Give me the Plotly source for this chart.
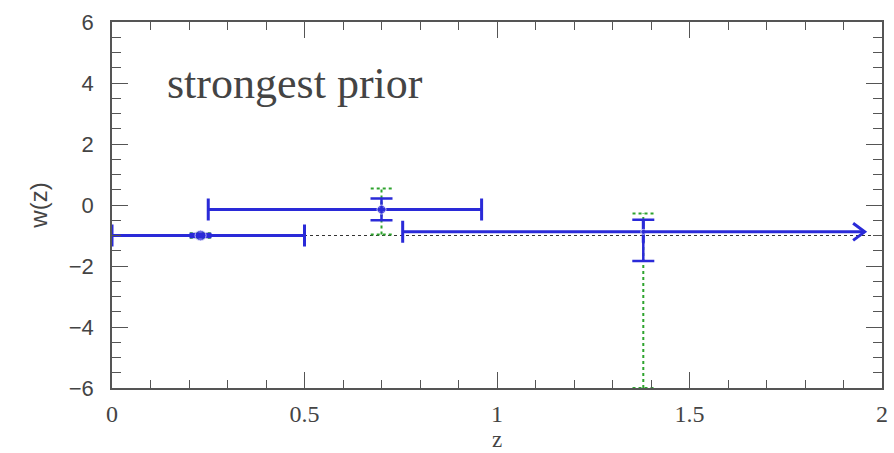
import plotly.graph_objects as go

# ---- data ----
bin_z = [0.23, 0.70, 1.38]          # representative redshift of each bin
bin_w = [-1.00, -0.15, -0.88]       # w(z) estimate per bin
z_lo = [0.00, 0.25, 0.755]          # bin lower edge
z_hi = [0.50, 0.96, 1.955]          # bin upper edge
w_err_plus = [0.05, 0.36, 0.40]     # blue error (upper)
w_err_minus = [0.05, 0.35, 0.96]    # blue error (lower)
g_err_plus = [0.07, 0.69, 0.60]     # green dotted error (upper)
g_err_minus = [0.07, 0.82, 5.12]    # green dotted error (lower)
arrow_bin = [False, False, True]    # open-ended bin
w_fid = -1.0                        # fiducial w
x_range = [0, 2]
y_range = [-6, 6]
x_ticks = [0, 0.5, 1, 1.5, 2]
x_ticklabels = ["0", "0.5", "1", "1.5", "2"]
y_ticks = [-6, -4, -2, 0, 2, 4, 6]

BLUE = "#2a2ad8"
GREEN = "#2ea32e"
AXC = "#555555"

fig = go.Figure()

# fiducial w = -1 dotted line
fig.add_trace(go.Scatter(x=x_range, y=[w_fid, w_fid], mode="lines",
                         line=dict(color="#333333", width=1, dash="dot"),
                         hoverinfo="skip", showlegend=False))

# green dotted error bars (vertical + caps)
cap = 0.028
gx, gy = [], []
for z, w, p, m in zip(bin_z, bin_w, g_err_plus, g_err_minus):
    gx += [z, z, None, z - cap, z + cap, None, z - cap, z + cap, None]
    gy += [w - m, w + p, None, w + p, w + p, None, w - m, w - m, None]
fig.add_trace(go.Scatter(x=gx, y=gy, mode="lines",
                         line=dict(color=GREEN, width=2, dash="dot"),
                         hoverinfo="skip", showlegend=False))

# blue bins with x (bin width) and y error bars
fig.add_trace(go.Scatter(
    x=bin_z, y=bin_w, mode="markers",
    marker=dict(color=BLUE, size=[11, 9, 5]),
    error_x=dict(type="data", symmetric=False,
                 array=[h - z if not a else 0 for h, z, a in zip(z_hi, bin_z, arrow_bin)],
                 arrayminus=[z - l for l, z in zip(z_lo, bin_z)],
                 color=BLUE, thickness=3, width=11),
    error_y=dict(type="data", symmetric=False, array=w_err_plus,
                 arrayminus=w_err_minus, color=BLUE, thickness=2.5, width=11),
    showlegend=False))

# open-ended bin: line to the arrow tip plus an open chevron
ax_, ay_ = [], []
dz, dw = 0.03, 0.28
for z, w, h, a in zip(bin_z, bin_w, z_hi, arrow_bin):
    if a:
        ax_ += [z, h, None, h - dz, h, h - dz, None]
        ay_ += [w, w, None, w + dw, w, w - dw, None]
fig.add_trace(go.Scatter(x=ax_, y=ay_, mode="lines",
                         line=dict(color=BLUE, width=3),
                         hoverinfo="skip", showlegend=False))

fig.add_annotation(x=0.138, y=4.0, xref="x", yref="y", text="strongest prior",
                   showarrow=False, xanchor="left", yanchor="middle",
                   font=dict(family="Liberation Serif", size=44, color="#444444"))

fig.update_layout(
    width=894, height=453,
    margin=dict(l=112, r=12, t=22, b=65),
    paper_bgcolor="white", plot_bgcolor="white",
    xaxis=dict(range=x_range, tickvals=x_ticks, ticktext=x_ticklabels,
               automargin=False,
               ticks="inside", ticklen=16, tickwidth=1.2, tickcolor=AXC,
               showline=True, linecolor=AXC, linewidth=1.5, mirror="allticks",
               showgrid=False, zeroline=False,
               minor=dict(ticks="inside", dtick=0.1, ticklen=8, tickcolor=AXC, tickwidth=1),
               tickfont=dict(family="Liberation Serif", size=24, color="#444444"),
               ticklabelstandoff=3,
               title=dict(text="z", font=dict(family="Liberation Serif", size=23, color="#444444"),
                          standoff=2)),
    yaxis=dict(range=y_range, tickvals=y_ticks,
               automargin=False,
               ticks="inside", ticklen=16, tickwidth=1.2, tickcolor=AXC,
               showline=True, linecolor=AXC, linewidth=1.5, mirror="allticks",
               showgrid=False, zeroline=False,
               minor=dict(ticks="inside", dtick=0.5, ticklen=9, tickcolor=AXC, tickwidth=1),
               tickfont=dict(family="Liberation Sans", size=22, color="#444444"),
               ticklabelstandoff=12,
               title=dict(text="w(z)", font=dict(family="Liberation Sans", size=24, color="#444444"),
                          standoff=14)),
)

fig.write_html("out.html")
